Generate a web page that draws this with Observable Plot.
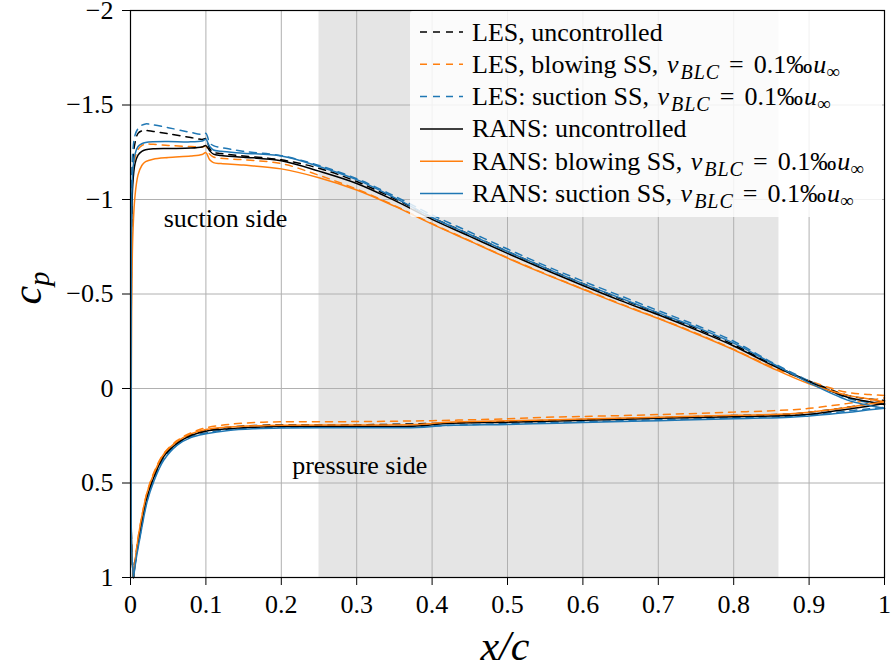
<!DOCTYPE html>
<html>
<head>
<meta charset="utf-8">
<script src="https://cdn.jsdelivr.net/npm/d3@7"></script>
<script src="https://cdn.jsdelivr.net/npm/@observablehq/plot@0.6"></script>
<style>
  body { margin: 0; background: #fff; }
  svg { display: block; }
</style>
</head>
<body>
<div id="chart"></div>
<script>
// Pressure coefficient along the airfoil surface, [x/c, cp] pairs.
// Suction side (SS) and pressure side (PS) both start at the stagnation point.

const lesUncSS = [[0.004,1.0],[0.0015,0.85],[0.001,0.3],[0.001,-0.5],[0.0015,-0.95],[0.003,-1.2],[0.006,-1.3],[0.01,-1.35],[0.015,-1.363],[0.02,-1.365],[0.03,-1.36],[0.05,-1.348],[0.08,-1.328],[0.095,-1.318],[0.1,-1.322],[0.105,-1.27],[0.11,-1.25],[0.12,-1.243],[0.15,-1.23],[0.2,-1.21],[0.25,-1.165],[0.3,-1.095],[0.35,-1.005],[0.4,-0.905],[0.45,-0.815],[0.5,-0.725],[0.55,-0.638],[0.6,-0.555],[0.65,-0.475],[0.7,-0.398],[0.75,-0.318],[0.8,-0.232],[0.85,-0.13],[0.9,-0.04],[0.95,0.035],[0.98,0.055],[1.0,0.063]];
const lesUncPS = [[0.004,1.0],[0.008,0.86],[0.013,0.74],[0.022,0.57],[0.031,0.465],[0.044,0.356],[0.062,0.286],[0.08,0.245],[0.1,0.222],[0.13,0.205],[0.165,0.196],[0.2,0.193],[0.3,0.192],[0.4,0.185],[0.5,0.174],[0.6,0.164],[0.7,0.154],[0.8,0.143],[0.875,0.135],[0.9,0.126],[0.95,0.1],[0.98,0.08],[1.0,0.065]];

const lesBlowSS = [[0.004,1.0],[0.0015,0.85],[0.001,0.3],[0.001,-0.5],[0.0015,-0.9],[0.003,-1.12],[0.006,-1.22],[0.01,-1.265],[0.015,-1.285],[0.02,-1.293],[0.03,-1.292],[0.05,-1.286],[0.08,-1.28],[0.095,-1.278],[0.1,-1.282],[0.105,-1.24],[0.11,-1.225],[0.12,-1.218],[0.15,-1.21],[0.2,-1.19],[0.25,-1.128],[0.3,-1.055],[0.35,-0.968],[0.4,-0.872],[0.45,-0.782],[0.5,-0.692],[0.55,-0.607],[0.6,-0.527],[0.65,-0.448],[0.7,-0.372],[0.75,-0.293],[0.8,-0.207],[0.85,-0.115],[0.9,-0.04],[0.95,0.02],[0.98,0.032],[1.0,0.037]];
const lesBlowPS = [[0.004,1.0],[0.008,0.85],[0.013,0.72],[0.022,0.55],[0.031,0.445],[0.044,0.345],[0.062,0.275],[0.08,0.235],[0.1,0.208],[0.13,0.19],[0.165,0.18],[0.2,0.176],[0.3,0.175],[0.4,0.17],[0.5,0.16],[0.55,0.152],[0.6,0.148],[0.7,0.138],[0.8,0.125],[0.875,0.113],[0.9,0.105],[0.95,0.08],[0.98,0.062],[1.0,0.05]];

const lesSuctSS = [[0.004,1.0],[0.0015,0.85],[0.001,0.3],[0.001,-0.5],[0.0015,-1.0],[0.003,-1.25],[0.006,-1.34],[0.01,-1.375],[0.015,-1.393],[0.02,-1.4],[0.03,-1.395],[0.05,-1.38],[0.08,-1.355],[0.095,-1.345],[0.1,-1.35],[0.105,-1.3],[0.11,-1.285],[0.12,-1.275],[0.15,-1.255],[0.2,-1.232],[0.25,-1.18],[0.3,-1.11],[0.35,-1.018],[0.4,-0.918],[0.45,-0.828],[0.5,-0.738],[0.55,-0.65],[0.6,-0.568],[0.65,-0.49],[0.7,-0.412],[0.75,-0.335],[0.8,-0.25],[0.85,-0.14],[0.9,-0.04],[0.95,0.05],[0.98,0.075],[1.0,0.085]];
const lesSuctPS = [[0.004,1.0],[0.008,0.88],[0.013,0.77],[0.022,0.59],[0.031,0.48],[0.044,0.37],[0.062,0.295],[0.08,0.255],[0.1,0.235],[0.13,0.217],[0.165,0.208],[0.2,0.204],[0.3,0.203],[0.4,0.198],[0.5,0.185],[0.6,0.176],[0.7,0.166],[0.8,0.155],[0.875,0.147],[0.9,0.14],[0.95,0.12],[0.98,0.107],[1.0,0.1]];

const ransUncSS = [[0.004,1.0],[0.0015,0.85],[0.001,0.3],[0.001,-0.4],[0.0015,-0.85],[0.003,-1.08],[0.006,-1.19],[0.01,-1.235],[0.015,-1.255],[0.02,-1.263],[0.03,-1.268],[0.05,-1.27],[0.08,-1.272],[0.095,-1.278],[0.1,-1.285],[0.105,-1.258],[0.11,-1.24],[0.12,-1.233],[0.15,-1.224],[0.2,-1.205],[0.25,-1.15],[0.3,-1.085],[0.35,-0.995],[0.4,-0.895],[0.45,-0.805],[0.5,-0.715],[0.55,-0.628],[0.6,-0.545],[0.65,-0.465],[0.7,-0.39],[0.75,-0.31],[0.8,-0.225],[0.85,-0.125],[0.9,-0.035],[0.95,0.045],[0.98,0.07],[1.0,0.085]];
const ransUncPS = [[0.004,1.0],[0.008,0.87],[0.013,0.75],[0.022,0.575],[0.031,0.47],[0.044,0.36],[0.062,0.29],[0.08,0.249],[0.1,0.226],[0.13,0.213],[0.165,0.205],[0.2,0.201],[0.3,0.2],[0.38,0.199],[0.4,0.192],[0.42,0.185],[0.5,0.178],[0.6,0.168],[0.7,0.158],[0.8,0.149],[0.875,0.143],[0.9,0.136],[0.95,0.11],[0.98,0.092],[1.0,0.08]];

const ransBlowSS = [[0.004,1.0],[0.0015,0.85],[0.001,0.3],[0.0015,-0.4],[0.003,-0.8],[0.006,-1.02],[0.01,-1.13],[0.015,-1.18],[0.02,-1.2],[0.03,-1.213],[0.05,-1.222],[0.08,-1.23],[0.095,-1.238],[0.1,-1.248],[0.105,-1.21],[0.11,-1.195],[0.12,-1.19],[0.15,-1.182],[0.2,-1.162],[0.25,-1.115],[0.3,-1.05],[0.35,-0.965],[0.4,-0.87],[0.45,-0.78],[0.5,-0.69],[0.55,-0.605],[0.6,-0.525],[0.65,-0.445],[0.7,-0.37],[0.75,-0.29],[0.8,-0.205],[0.85,-0.11],[0.9,-0.025],[0.95,0.035],[0.98,0.055],[1.0,0.07]];
const ransBlowPS = [[0.004,1.0],[0.008,0.85],[0.013,0.72],[0.022,0.55],[0.031,0.45],[0.044,0.348],[0.062,0.28],[0.08,0.24],[0.1,0.217],[0.13,0.204],[0.165,0.197],[0.2,0.194],[0.3,0.193],[0.38,0.191],[0.4,0.185],[0.42,0.178],[0.5,0.171],[0.6,0.162],[0.7,0.152],[0.8,0.142],[0.875,0.134],[0.9,0.125],[0.95,0.1],[0.98,0.082],[1.0,0.07]];

const ransSuctSS = [[0.004,1.0],[0.0015,0.85],[0.001,0.3],[0.001,-0.5],[0.0015,-0.95],[0.003,-1.15],[0.006,-1.24],[0.01,-1.28],[0.015,-1.295],[0.02,-1.302],[0.03,-1.306],[0.05,-1.307],[0.08,-1.305],[0.095,-1.31],[0.1,-1.318],[0.105,-1.28],[0.11,-1.262],[0.12,-1.255],[0.15,-1.245],[0.2,-1.23],[0.25,-1.175],[0.3,-1.105],[0.35,-1.01],[0.4,-0.905],[0.45,-0.815],[0.5,-0.725],[0.55,-0.638],[0.6,-0.555],[0.65,-0.478],[0.7,-0.4],[0.75,-0.325],[0.8,-0.24],[0.85,-0.135],[0.9,-0.03],[0.95,0.06],[0.98,0.09],[1.0,0.105]];
const ransSuctPS = [[0.004,1.0],[0.008,0.89],[0.013,0.78],[0.022,0.6],[0.031,0.49],[0.044,0.38],[0.062,0.3],[0.08,0.26],[0.1,0.24],[0.13,0.222],[0.165,0.213],[0.2,0.209],[0.3,0.208],[0.38,0.206],[0.42,0.195],[0.5,0.19],[0.55,0.185],[0.6,0.18],[0.7,0.17],[0.8,0.16],[0.875,0.152],[0.9,0.145],[0.95,0.127],[0.98,0.113],[1.0,0.105]];

// Axis ticks, shaded chord region, annotations
const xTicks = [0, 0.1, 0.2, 0.3, 0.4, 0.5, 0.6, 0.7, 0.8, 0.9, 1];
const yTicks = [-2, -1.5, -1, -0.5, 0, 0.5, 1];
const controlRegion = [{x1: 0.25, x2: 0.86}];
const annotations = [
  {label: "suction side", x: 0.126, cp: -0.9},
  {label: "pressure side", x: 0.304, cp: 0.41}
];
const blcRate = "0.1";

const series = [
  {label: "LES, uncontrolled", controlled: false, color: "#000000", dashed: true, ss: lesUncSS, ps: lesUncPS},
  {label: "LES, blowing SS, ", controlled: true, color: "#ff7f0e", dashed: true, ss: lesBlowSS, ps: lesBlowPS},
  {label: "LES: suction SS, ", controlled: true, color: "#1f77b4", dashed: true, ss: lesSuctSS, ps: lesSuctPS},
  {label: "RANS: uncontrolled", controlled: false, color: "#000000", dashed: false, ss: ransUncSS, ps: ransUncPS},
  {label: "RANS: blowing SS, ", controlled: true, color: "#ff7f0e", dashed: false, ss: ransBlowSS, ps: ransBlowPS},
  {label: "RANS: suction SS, ", controlled: true, color: "#1f77b4", dashed: false, ss: ransSuctSS, ps: ransSuctPS}
];

const DASH = "7,6";
const SERIF = "Liberation Serif";
const FS = 26;
const fmt = d => String(d).replace("-", "\u2212");

const rowsOf = s => [
  ...s.ss.map(([x, cp]) => ({side: "SS", x, cp})),
  ...s.ps.map(([x, cp]) => ({side: "PS", x, cp}))
];

const W = 891, H = 672;
const chart = Plot.plot({
  width: W,
  height: H,
  marginLeft: 130,
  marginRight: 7,
  marginTop: 10,
  marginBottom: 95,
  x: {domain: [0, 1], label: null},
  y: {domain: [-2, 1], reverse: true, label: null},
  marks: [
    Plot.rect(controlRegion, {x1: "x1", x2: "x2", fill: "#e5e5e5"}),
    Plot.gridX(xTicks, {stroke: "#b0b0b0", strokeOpacity: 1, strokeWidth: 1}),
    Plot.gridY(yTicks, {stroke: "#b0b0b0", strokeOpacity: 1, strokeWidth: 1}),
    ...series.map(s => Plot.line(rowsOf(s), {
      x: "x", y: "cp", z: "side",
      stroke: s.color, strokeWidth: 1.5,
      strokeDasharray: s.dashed ? DASH : null,
      curve: "catmull-rom"
    })),
    Plot.text(annotations, {x: "x", y: "cp", text: "label", fontSize: FS, fontFamily: SERIF, fill: "#000"}),
    Plot.axisX(xTicks, {tickFormat: fmt, tickSize: 8, tickPadding: 9, fontSize: FS, fontFamily: SERIF, stroke: "#000", label: null}),
    Plot.axisY(yTicks, {tickFormat: fmt, tickSize: 8, tickPadding: 9, fontSize: FS, fontFamily: SERIF, stroke: "#000", label: null}),
    Plot.frame({stroke: "#000", strokeWidth: 1.2})
  ]
});
document.getElementById("chart").appendChild(chart);

const svg = d3.select(chart).attr("font-family", SERIF);

// Legend box in the upper right of the plot area
const lg = svg.append("g").attr("font-size", FS).attr("text-anchor", "start");
lg.append("rect")
  .attr("x", 410).attr("y", 11).attr("width", 472).attr("height", 206)
  .attr("rx", 3).attr("fill", "#fff").attr("fill-opacity", 0.82);

series.forEach((s, i) => {
  const y = 32 + i * 32.3;
  lg.append("line")
    .attr("x1", 420).attr("x2", 463).attr("y1", y).attr("y2", y)
    .attr("stroke", s.color).attr("stroke-width", 1.5)
    .attr("stroke-dasharray", s.dashed ? DASH : null);
  const t = lg.append("text").attr("x", 472).attr("y", y).attr("dy", "0.33em")
    .attr("fill", "#000").attr("text-anchor", "start");
  t.append("tspan").text(s.label);
  if (s.controlled) {
    t.append("tspan").attr("font-style", "italic").attr("dx", 2).text("v");
    t.append("tspan").attr("font-style", "italic").attr("font-size", 20).attr("dx", 2)
      .attr("dy", 6).attr("letter-spacing", 1).text("BLC");
    t.append("tspan").attr("dx", 9).attr("dy", -6).text("=");
    t.append("tspan").attr("dx", 10).text(blcRate + "\u2030");
    t.append("tspan").attr("font-style", "italic").attr("dx", 1).text("u");
    t.append("tspan").attr("font-size", 19).attr("dy", 5).text("\u221E");
  }
});

// Axis titles
svg.append("text")
  .attr("x", 505).attr("y", 660)
  .attr("text-anchor", "middle").attr("font-size", 42)
  .attr("font-style", "italic").text("x/c");

const yt = svg.append("text")
  .attr("transform", "translate(41,288) rotate(-90)")
  .attr("text-anchor", "middle").attr("font-size", 42)
  .attr("font-style", "italic");
yt.append("tspan").text("c");
yt.append("tspan").attr("font-size", 29).attr("dy", 8).text("p");

// Serif typeface on every label
svg.selectAll("text, tspan").attr("font-family", SERIF).style("font-family", SERIF);
</script>
</body>
</html>
